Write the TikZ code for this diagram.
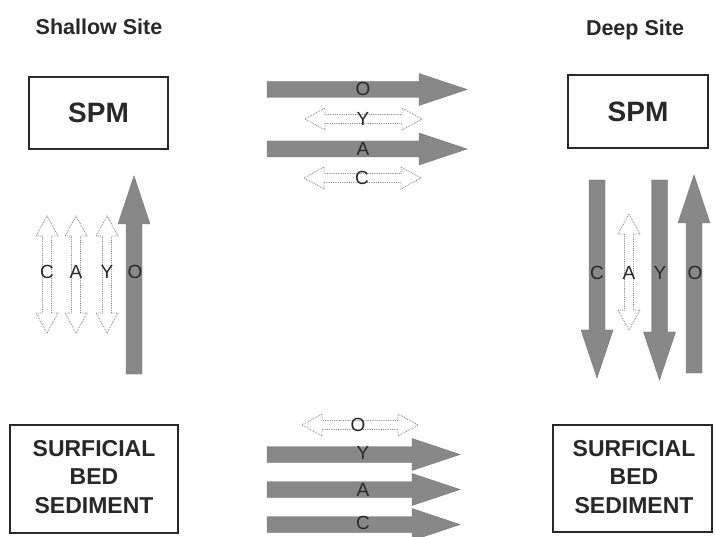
\documentclass[tikz,border=0pt]{standalone}
\usepackage{fontspec}
\setmainfont{Liberation Sans}
\definecolor{arrgray}{RGB}{136,136,136}
\definecolor{edgegray}{RGB}{115,115,115}
\definecolor{txtgray}{RGB}{40,40,40}
\newcommand\sarr[4]{%
  \begin{scope}[shift={(#1,#2)},rotate=#3]
    \fill[sarrowstyle] (0,-8) -- ({#4-48},-8) -- ({#4-48},-16) -- (#4,0) -- ({#4-48},16) -- ({#4-48},8) -- (0,8) -- cycle;
  \end{scope}}
\newcommand\darr[4]{%
  \begin{scope}[shift={(#1,#2)},rotate=#3]
    \draw[darrowstyle] (0,0) -- (20,-11) -- (20,-4.5) -- ({#4-20},-4.5) -- ({#4-20},-11) -- (#4,0) -- ({#4-20},11) -- ({#4-20},4.5) -- (20,4.5) -- (20,11) -- cycle;
  \end{scope}}
\begin{document}
\begin{tikzpicture}[x=1pt,y=-1pt,
  sarrowstyle/.style={fill=arrgray,draw=edgegray,line width=0.4pt},
  darrowstyle/.style={fill=white,draw=gray,line width=0.8pt,densely dotted},
  lbl/.style={font=\fontsize{19}{19}\selectfont,text=txtgray,inner sep=0pt},
  boxstyle/.style={draw=txtgray,line width=2pt,fill=white},
  title/.style={font=\fontsize{21.5}{24}\selectfont\bfseries,text=txtgray},
  spmtext/.style={font=\fontsize{28}{30}\selectfont\bfseries,text=txtgray},
  boxtext/.style={font=\fontsize{23}{28.5}\selectfont\bfseries,text=txtgray,align=center}]
\useasboundingbox[fill=white] (0,0) rectangle (715,537);
\begin{scope}
\clip (0,0) rectangle (715,537);
% titles
\node[title] (tshallow) at (99,27) {Shallow Site};
\node[title] (tdeep) at (635,30) {Deep Site};
% boxes
\draw[boxstyle] (29,77) rectangle (168,149);
\node[spmtext] (spmL) at (98.5,113) {SPM};
\draw[boxstyle] (568,75) rectangle (708,148);
\node[spmtext] (spmR) at (638,111.5) {SPM};
\draw[boxstyle] (10,425) rectangle (178,533);
\node[boxtext] (sedL) at (94,477) {SURFICIAL\\BED\\SEDIMENT};
\draw[boxstyle] (553,425) rectangle (712,532);
\node[boxtext] (sedR) at (634,477) {SURFICIAL\\BED\\SEDIMENT};
% top arrows
\sarr{267}{89.5}{0}{200}
\darr{305}{119}{0}{117}
\sarr{267}{149}{0}{200}
\darr{304}{178}{0}{117}
\node[lbl] (tO) at (363,89) {O};
\node[lbl] (tY) at (363,119) {Y};
\node[lbl] (tA) at (363,149) {A};
\node[lbl] (tC) at (362,178) {C};
% left arrows
\darr{47}{333}{90}{117}
\darr{76}{333}{90}{117}
\darr{107}{333}{90}{117}
\sarr{134}{374}{90}{198}
\node[lbl] (lC) at (47,272) {C};
\node[lbl] (lA) at (76,272) {A};
\node[lbl] (lY) at (107,272) {Y};
\node[lbl] (lO) at (135,272) {O};
% right arrows
\sarr{597}{180}{-90}{198}
\darr{629}{330}{90}{116}
\sarr{659.5}{180}{-90}{200}
\sarr{694}{373}{90}{198}
\node[lbl] (rC) at (597,273) {C};
\node[lbl] (rA) at (629,273) {A};
\node[lbl] (rY) at (660,273) {Y};
\node[lbl] (rO) at (695,273) {O};
% bottom arrows
\darr{302}{425}{0}{116}
\sarr{267}{454.5}{0}{193}
\sarr{267}{489.5}{0}{193}
\sarr{267}{524.5}{0}{193}
\node[lbl] (bO) at (358,425) {O};
\node[lbl] (bY) at (363,453) {Y};
\node[lbl] (bA) at (363,490) {A};
\node[lbl] (bC) at (363,523) {C};
\end{scope}
\end{tikzpicture}
\end{document}
